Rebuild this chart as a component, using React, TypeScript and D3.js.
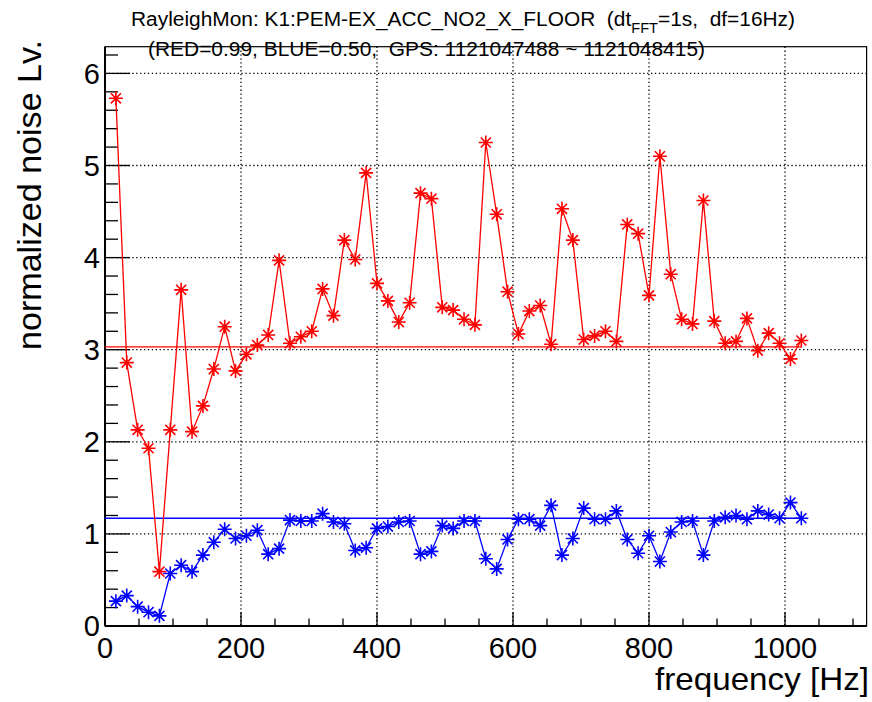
import React, { useRef, useEffect } from 'react';
import * as d3 from 'd3';

const freqs = [16, 32, 48, 64, 80, 96, 112, 128, 144, 160, 176, 192, 208, 224, 240, 256,
  272, 288, 304, 320, 336, 352, 368, 384, 400, 416, 432, 448, 464, 480, 496, 512,
  528, 544, 560, 576, 592, 608, 624, 640, 656, 672, 688, 704, 720, 736, 752, 768,
  784, 800, 816, 832, 848, 864, 880, 896, 912, 928, 944, 960, 976, 992, 1008, 1024];

const redVals = [5.73, 2.86, 2.13, 1.93, 0.59, 2.13, 3.65, 2.11, 2.39, 2.79, 3.25, 2.77, 2.95, 3.05, 3.16, 3.97,
  3.07, 3.14, 3.20, 3.66, 3.37, 4.19, 3.98, 4.92, 3.72, 3.53, 3.30, 3.51, 4.70, 4.64, 3.46, 3.43,
  3.33, 3.27, 5.25, 4.47, 3.63, 3.17, 3.42, 3.48, 3.06, 4.53, 4.19, 3.11, 3.15, 3.20, 3.09, 4.36,
  4.26, 3.59, 5.10, 3.82, 3.33, 3.28, 4.62, 3.31, 3.07, 3.09, 3.34, 2.99, 3.18, 3.07, 2.90, 3.10];

const blueVals = [0.27, 0.33, 0.21, 0.15, 0.11, 0.57, 0.66, 0.59, 0.77, 0.91, 1.05, 0.95, 0.98, 1.04, 0.78, 0.84,
  1.15, 1.14, 1.14, 1.22, 1.13, 1.11, 0.82, 0.85, 1.06, 1.08, 1.13, 1.14, 0.78, 0.81, 1.09, 1.06,
  1.14, 1.14, 0.73, 0.62, 0.94, 1.16, 1.16, 1.09, 1.31, 0.77, 0.95, 1.28, 1.16, 1.16, 1.25, 0.94,
  0.79, 0.98, 0.70, 1.02, 1.13, 1.14, 0.77, 1.14, 1.18, 1.20, 1.16, 1.25, 1.21, 1.17, 1.34, 1.17];

const redMean = 3.03;
const blueMean = 1.17;

const xTicks = [0, 200, 400, 600, 800, 1000];
const yTicks = [0, 1, 2, 3, 4, 5, 6];

const FONT = '"Liberation Sans", Arial, Helvetica, sans-serif';

export default function App() {
  const ref = useRef(null);

  useEffect(() => {
    const svg = d3.select(ref.current);
    svg.selectAll('*').remove();

    const left = 105, right = 866.6, top = 46.7, bottom = 626;

    const x = d3.scaleLinear().domain([0, 1120]).range([left, right]);
    const y = d3.scaleLinear().domain([0, 6.29]).range([bottom, top]);

    svg.append('rect').attr('width', 872).attr('height', 702).attr('fill', '#fff');

    // dotted grid at major ticks
    const grid = svg.append('g')
      .attr('stroke', '#000').attr('stroke-width', 1.3)
      .attr('stroke-dasharray', '1.3,2.6');
    xTicks.filter(d => d > 0).forEach(d => {
      grid.append('line')
        .attr('x1', x(d)).attr('x2', x(d))
        .attr('y1', top).attr('y2', bottom);
    });
    yTicks.filter(d => d > 0).forEach(d => {
      grid.append('line')
        .attr('x1', left).attr('x2', right)
        .attr('y1', y(d)).attr('y2', y(d));
    });

    // ticks (inside the frame, like ROOT)
    const ticks = svg.append('g').attr('stroke', '#000').attr('stroke-width', 1.3);
    d3.range(0, 1120, 50).forEach(d => {
      const major = d % 200 === 0;
      ticks.append('line')
        .attr('x1', x(d)).attr('x2', x(d))
        .attr('y1', bottom).attr('y2', bottom - (major ? 14 : 7.5));
    });
    d3.range(0, 32).map(i => i * 0.2).filter(d => d <= 6.29).forEach((d, i) => {
      const major = i % 5 === 0;
      ticks.append('line')
        .attr('x1', left).attr('x2', left + (major ? 25 : 13))
        .attr('y1', y(d)).attr('y2', y(d));
    });

    // frame
    svg.append('rect')
      .attr('x', left).attr('y', top)
      .attr('width', right - left).attr('height', bottom - top)
      .attr('fill', 'none').attr('stroke', '#000').attr('stroke-width', 1.2);
    svg.append('line').attr('x1', left).attr('x2', left).attr('y1', top).attr('y2', bottom)
      .attr('stroke', '#000').attr('stroke-width', 2);
    svg.append('line').attr('x1', left).attr('x2', right).attr('y1', bottom).attr('y2', bottom)
      .attr('stroke', '#000').attr('stroke-width', 2);

    // tick labels
    svg.append('g').selectAll('text').data(xTicks).enter().append('text')
      .attr('x', d => x(d)).attr('y', 658)
      .attr('text-anchor', 'middle')
      .attr('font-family', FONT).attr('font-size', 29)
      .text(d => d);
    svg.append('g').selectAll('text').data(yTicks).enter().append('text')
      .attr('x', 100).attr('y', d => y(d))
      .attr('dy', '0.36em')
      .attr('text-anchor', 'end')
      .attr('font-family', FONT).attr('font-size', 29)
      .text(d => d);

    // axis titles
    svg.append('text')
      .attr('x', 869).attr('y', 690)
      .attr('text-anchor', 'end')
      .attr('font-family', FONT).attr('font-size', 32)
      .attr('textLength', 214).attr('lengthAdjust', 'spacingAndGlyphs')
      .text('frequency [Hz]');
    svg.append('text')
      .attr('transform', 'translate(41,40) rotate(-90)')
      .attr('text-anchor', 'end')
      .attr('font-family', FONT).attr('font-size', 33)
      .attr('textLength', 310).attr('lengthAdjust', 'spacingAndGlyphs')
      .text('normalized noise Lv.');

    // mean lines
    svg.append('line')
      .attr('x1', x(0)).attr('x2', x(1024))
      .attr('y1', y(redMean)).attr('y2', y(redMean))
      .attr('stroke', '#ff0000').attr('stroke-width', 1.3);
    svg.append('line')
      .attr('x1', x(0)).attr('x2', x(1024))
      .attr('y1', y(blueMean)).attr('y2', y(blueMean))
      .attr('stroke', '#0000ff').attr('stroke-width', 1.3);

    const line = d3.line<number>()
      .x((d, i) => x(freqs[i]))
      .y(d => y(d));

    // ROOT marker style 3 (asterisk)
    const star = (g, cx, cy, color) => {
      const r = 7, q = r * 0.72;
      const p = `M${cx - r},${cy}L${cx + r},${cy}M${cx},${cy - r}L${cx},${cy + r}` +
        `M${cx - q},${cy - q}L${cx + q},${cy + q}M${cx - q},${cy + q}L${cx + q},${cy - q}`;
      g.append('path').attr('d', p).attr('stroke', color).attr('stroke-width', 1.6).attr('fill', 'none');
    };

    [[redVals, '#ff0000'], [blueVals, '#0000ff']].forEach(([vals, color]) => {
      const v = vals as number[];
      const c = color as string;
      svg.append('path')
        .attr('d', line(v))
        .attr('fill', 'none')
        .attr('stroke', c)
        .attr('stroke-width', 1.3);
      const g = svg.append('g');
      v.forEach((d, i) => star(g, x(freqs[i]), y(d), c));
    });

    // title
    const t1 = svg.append('text')
      .attr('x', 131).attr('y', 26)
      .attr('font-family', FONT).attr('font-size', 20)
      .style('white-space', 'pre')
      .attr('textLength', 664).attr('lengthAdjust', 'spacingAndGlyphs');
    t1.append('tspan').text('RayleighMon: K1:PEM-EX_ACC_NO2_X_FLOOR  (dt');
    t1.append('tspan').attr('dy', 7).attr('font-size', 14).text('FFT');
    t1.append('tspan').attr('dy', -7).text('=1s,  df=16Hz)');

    svg.append('text')
      .attr('x', 148).attr('y', 56)
      .attr('font-family', FONT).attr('font-size', 20)
      .style('white-space', 'pre')
      .attr('textLength', 557).attr('lengthAdjust', 'spacingAndGlyphs')
      .text('(RED=0.99, BLUE=0.50,  GPS: 1121047488 ~ 1121048415)');
  }, []);

  return (
    <svg ref={ref} width={872} height={702}
      style={{ position: 'absolute', left: 0, top: 0, display: 'block' }} />
  );
}
